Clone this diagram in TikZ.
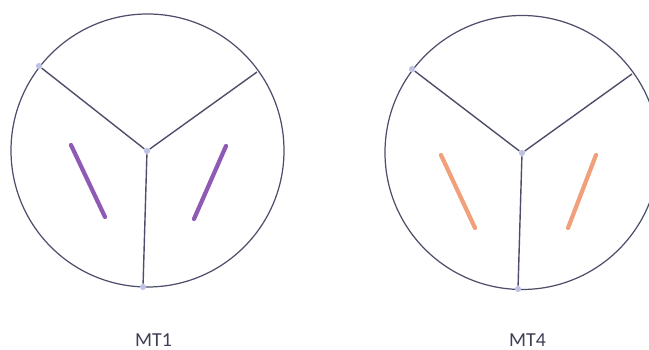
\documentclass[tikz,border=0pt]{standalone}
\usepackage{fontspec}
\setmainfont{Carlito}
\definecolor{mtline}{RGB}{78,78,108}
\definecolor{mtdot}{RGB}{190,194,228}
\definecolor{mtpurple}{RGB}{142,90,181}
\definecolor{mtorange}{RGB}{240,160,122}
\usetikzlibrary{positioning}

\begin{document}
\begin{tikzpicture}[x=0.02cm, y=-0.02cm,
    rim/.style={draw=mtline, line width=0.7pt},
    spoke/.style={draw=mtline, line width=0.8pt},
    joint/.style={circle, inner sep=0pt, minimum size=3.5pt, fill=mtdot},
    bar/.style={line width=2.4pt, line cap=round},
    mtname/.style={font=\fontsize{11.3}{13}\selectfont, text=mtline!80!black}
  ]
    \useasboundingbox (0,0) rectangle (649,350);
    \clip (0,0) rectangle (649,350);

    % MT1 (left)
    \draw[rim] (147.5,150.5) circle[radius=136.5];
    \node[joint] (c1)  at (147,151) {};
    \node[joint] (tl1) at (39,66)   {};
    \coordinate  (tr1) at (257,72);
    \node[joint] (b1)  at (143,287) {};
    \draw[spoke] (tl1) -- (c1) -- (tr1);
    \draw[spoke] (c1) -- (b1);
    \draw[bar, mtpurple] (71,145)  -- (105,217);
    \draw[bar, mtpurple] (226,146) -- (194,219);
    \node[mtname] (n1) at (153.5,340) {MT1};

    % MT4 (right)
    \draw[rim] (522,152.5) circle[radius=137];
    \node[joint] (c4)  at (522,153) {};
    \node[joint] (tl4) at (412,69)  {};
    \coordinate  (tr4) at (632,74);
    \node[joint] (b4)  at (518,289) {};
    \draw[spoke] (tl4) -- (c4) -- (tr4);
    \draw[spoke] (c4) -- (b4);
    \draw[bar, mtorange] (441,155) -- (475,228);
    \draw[bar, mtorange] (596,155) -- (568,228);
    \node[mtname] (n4) at (527.5,340) {MT4};
\end{tikzpicture}
\end{document}
